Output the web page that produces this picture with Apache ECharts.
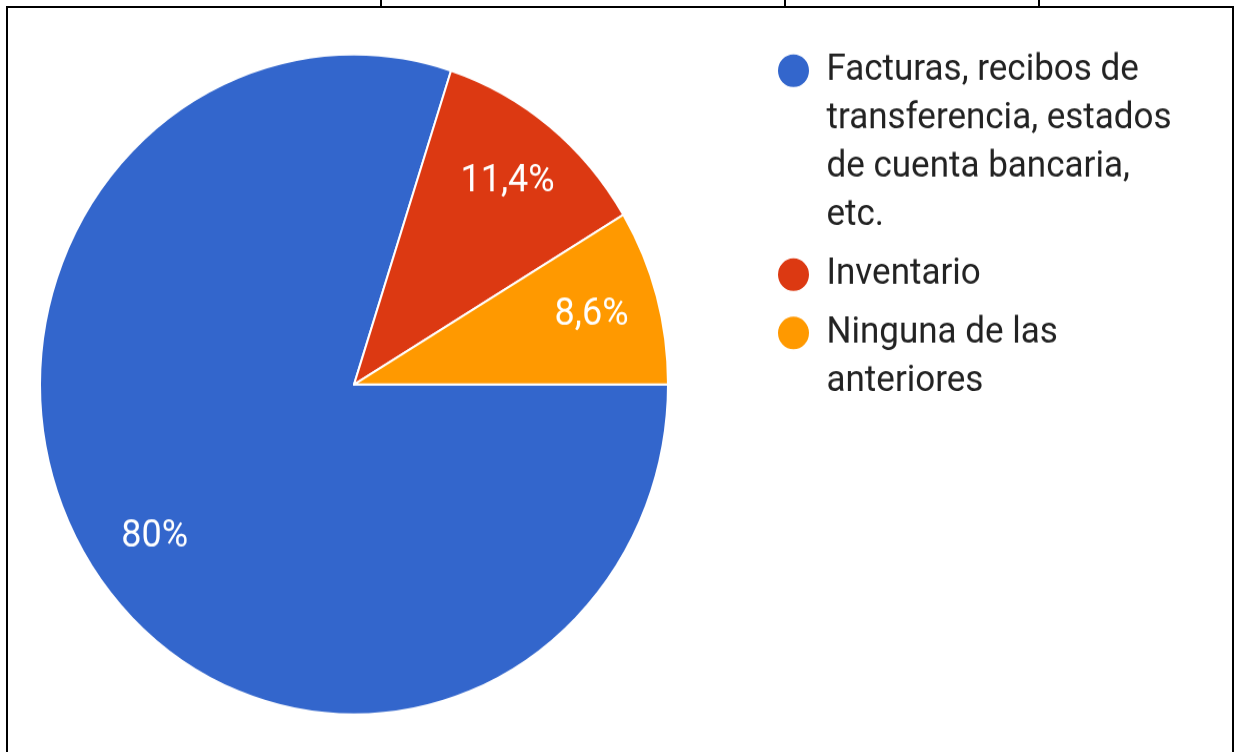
<!DOCTYPE html>
<html>
<head>
<meta charset="utf-8">
<script src="https://cdn.jsdelivr.net/npm/echarts@6/dist/echarts.min.js"></script>
<style>
html, body { margin: 0; padding: 0; background: #fff; width: 1236px; height: 752px; overflow: hidden; }
#wrap { position: relative; width: 1236px; height: 752px; }
#chart { position: absolute; left: 0; top: 0; width: 1236px; height: 716px; transform: scaleY(1.051); transform-origin: 0 0; }
.ln { position: absolute; background: #000; }
</style>
</head>
<body>
<div id="wrap">
  <div id="chart"></div>
  <div class="ln" style="left:6px;top:6px;width:1228px;height:2px"></div>
  <div class="ln" style="left:6px;top:6px;width:2px;height:746px"></div>
  <div class="ln" style="left:1232px;top:6px;width:2px;height:746px"></div>
  <div class="ln" style="left:380px;top:0;width:2px;height:8px"></div>
  <div class="ln" style="left:784px;top:0;width:2px;height:8px"></div>
  <div class="ln" style="left:1038px;top:0;width:2px;height:8px"></div>
</div>
<script>
// ---- data ----
const categories = [
  'Facturas, recibos de\ntransferencia, estados\nde cuenta bancaria,\netc.',
  'Inventario',
  'Ninguna de las\nanteriores'
];
const values = [80, 11.4, 8.6];

// ---- chart ----
const S = 1.051;            // vertical stretch of the reference image
const LH = 48.5 / S;        // legend line height
const FONT = 'Roboto, "Liberation Sans", Arial, sans-serif';
const pieData = categories.map((c, i) => ({ name: c, value: values[i] }));
const iconCenters = [70.7, 274.7, 333];

function legendFor(i) {
  const n = categories[i].split('\n').length;
  const total = 2 * n - 1;   // blank lines above so the icon sits on the first line
  return {
    orient: 'vertical',
    left: 776,
    top: iconCenters[i] / S - total / 2 * LH,
    padding: 0,
    icon: 'circle',
    itemWidth: 34,
    itemHeight: 33,
    selectedMode: false,
    data: [categories[i]],
    formatter: name => '\n'.repeat(n - 1) + name,
    textStyle: {
      fontFamily: FONT,
      fontSize: 35,
      color: '#222',
      lineHeight: LH,
      padding: [0, 0, 0, 11]
    }
  };
}

const chart = echarts.init(document.getElementById('chart'), null, { renderer: 'canvas' });
chart.setOption({
  animation: false,
  color: ['#3366CC', '#DC3912', '#FF9900'],
  legend: [legendFor(0), legendFor(1), legendFor(2)],
  series: [
    {
      type: 'pie',
      center: [354, 384.5 / S],
      radius: [0, 314],
      startAngle: 0,
      clockwise: true,
      silent: true,
      data: pieData,
      label: { show: false },
      labelLine: { show: false },
      itemStyle: { borderColor: '#fff', borderWidth: 2 },
      emphasis: { disabled: true }
    },
    {
      type: 'pie',
      center: [354, 384.5 / S],
      radius: [173, 314],
      startAngle: 0,
      clockwise: true,
      silent: true,
      data: pieData,
      itemStyle: { color: 'rgba(0,0,0,0)', borderWidth: 0 },
      label: {
        show: true,
        position: 'inside',
        color: '#fff',
        fontFamily: FONT,
        fontSize: 36,
        formatter: p => String(p.value).replace('.', ',') + '%'
      },
      labelLine: { show: false },
      emphasis: { disabled: true }
    }
  ]
});
</script>
</body>
</html>
